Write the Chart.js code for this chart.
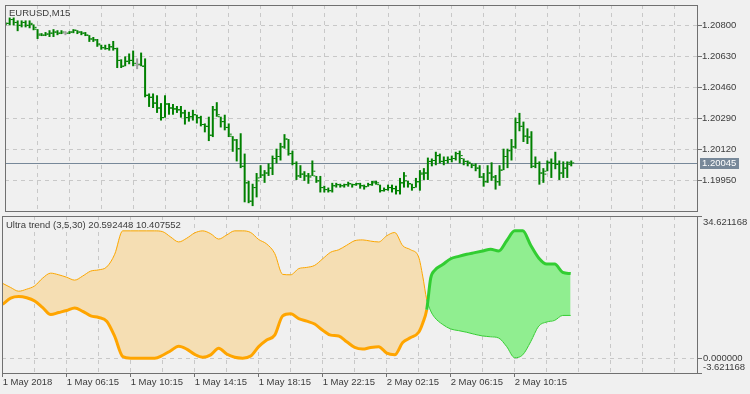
<!DOCTYPE html>
<html>
<head>
<meta charset="utf-8">
<script src="https://cdn.jsdelivr.net/npm/chart.js@4.4.1/dist/chart.umd.min.js"></script>
<style>
  html, body { margin: 0; padding: 0; background: #f0f0f0; }
  #wrap { position: relative; width: 750px; height: 394px; overflow: hidden; }
  canvas { position: absolute; left: 0; }
  #priceChart { top: 0; }
  #trendChart { top: 216px; }
</style>
</head>
<body>
<div id="wrap">
  <canvas id="priceChart" width="750" height="216"></canvas>
  <canvas id="trendChart" width="750" height="178"></canvas>
</div>
<script>
const symbolTitle = "EURUSD,M15";
const indicatorTitle = "Ultra trend (3,5,30) 20.592448 10.407552";

// bar index of every grid line, and the labelled ones
const gridBars = [0, 8, 16, 24, 32, 40, 48, 56, 64, 72, 80, 88, 96, 104, 112, 120, 128, 136, 144, 152, 160, 168];
const timeLabelBars = [0, 16, 32, 48, 64, 80, 96, 112, 128];
const timeLabels = ["1 May 2018", "1 May 06:15", "1 May 10:15", "1 May 14:15", "1 May 18:15",
  "1 May 22:15", "2 May 02:15", "2 May 06:15", "2 May 10:15"];

const priceTicks = [1.1995, 1.2012, 1.2029, 1.2046, 1.2063, 1.208];
const currentPrice = 1.20045;

// M15 bars
const open = [1.20807,1.20813,1.20834,1.20818,1.20802,1.20818,1.20802,1.20807,1.20781,1.20754,
  1.20748,1.20754,1.20759,1.20765,1.20759,1.20759,1.20759,1.20765,1.20775,1.20765,
  1.20759,1.20748,1.20727,1.20722,1.20695,1.20679,1.20674,1.20684,1.20674,1.20609,
  1.20577,1.20604,1.20609,1.20583,1.20588,1.20577,1.20417,1.20406,1.20374,1.20347,
  1.20294,1.20369,1.20347,1.20342,1.20337,1.20320,1.20294,1.20299,1.20310,1.20294,
  1.20256,1.20246,1.20197,1.20337,1.20299,1.20272,1.20240,1.20192,1.20171,1.20123,
  1.20026,1.19935,1.19834,1.19909,1.19962,1.19978,1.19989,1.20016,1.20069,1.20080,
  1.20133,1.20176,1.20096,1.20042,1.19973,1.19983,1.19973,1.19973,1.19973,1.19946,
  1.19909,1.19898,1.19892,1.19919,1.19925,1.19919,1.19925,1.19930,1.19925,1.19930,
  1.19919,1.19914,1.19925,1.19941,1.19925,1.19892,1.19898,1.19909,1.19903,1.19892,
  1.19935,1.19946,1.19930,1.19909,1.19941,1.19983,1.19989,1.20053,1.20058,1.20085,
  1.20053,1.20058,1.20064,1.20069,1.20096,1.20069,1.20053,1.20042,1.20032,1.20016,
  1.19967,1.19941,1.19989,1.19967,1.19941,1.20005,1.20080,1.20112,1.20133,1.20267,
  1.20246,1.20192,1.20187,1.20026,1.20042,1.19989,1.19999,1.20048,1.20042,1.20037,
  1.19989,1.20016,1.20037];
const high = [1.20818,1.20845,1.20845,1.20829,1.20829,1.20829,1.20829,1.20807,1.20781,1.20759,
  1.20765,1.20775,1.20781,1.20775,1.20775,1.20770,1.20770,1.20781,1.20775,1.20770,
  1.20765,1.20748,1.20738,1.20727,1.20695,1.20695,1.20700,1.20716,1.20679,1.20615,
  1.20631,1.20647,1.20663,1.20620,1.20652,1.20620,1.20427,1.20427,1.20417,1.20374,
  1.20417,1.20374,1.20369,1.20358,1.20358,1.20337,1.20326,1.20337,1.20310,1.20304,
  1.20262,1.20299,1.20358,1.20379,1.20299,1.20310,1.20262,1.20192,1.20176,1.20208,
  1.20096,1.19946,1.19930,1.19989,1.20032,1.20005,1.20042,1.20085,1.20123,1.20155,
  1.20203,1.20176,1.20112,1.20053,1.20032,1.19999,1.19989,1.20058,1.19973,1.19973,
  1.19919,1.19909,1.19935,1.19935,1.19930,1.19930,1.19941,1.19930,1.19935,1.19935,
  1.19925,1.19935,1.19946,1.19946,1.19925,1.19909,1.19925,1.19925,1.19919,1.19962,
  1.19994,1.19946,1.19930,1.19962,1.20005,1.20016,1.20074,1.20069,1.20106,1.20096,
  1.20080,1.20080,1.20085,1.20106,1.20112,1.20069,1.20058,1.20042,1.20042,1.20032,
  1.19989,1.20032,1.20048,1.19978,1.20032,1.20123,1.20123,1.20176,1.20294,1.20320,
  1.20272,1.20235,1.20219,1.20080,1.20053,1.20016,1.20058,1.20069,1.20106,1.20058,
  1.20053,1.20053,1.20058];
const low = [1.20802,1.20802,1.20802,1.20770,1.20791,1.20791,1.20786,1.20775,1.20727,1.20743,
  1.20743,1.20738,1.20738,1.20748,1.20754,1.20748,1.20754,1.20759,1.20754,1.20748,
  1.20743,1.20711,1.20711,1.20684,1.20668,1.20668,1.20663,1.20663,1.20567,1.20567,
  1.20577,1.20588,1.20577,1.20561,1.20577,1.20406,1.20353,1.20347,1.20320,1.20278,
  1.20294,1.20310,1.20310,1.20320,1.20294,1.20256,1.20272,1.20278,1.20262,1.20246,
  1.20213,1.20165,1.20187,1.20299,1.20240,1.20224,1.20187,1.20106,1.20053,1.20016,
  1.19828,1.19823,1.19807,1.19855,1.19962,1.19935,1.19973,1.19978,1.20042,1.20058,
  1.20123,1.20085,1.20032,1.19951,1.19962,1.19946,1.19930,1.19973,1.19935,1.19882,
  1.19882,1.19882,1.19882,1.19909,1.19909,1.19909,1.19914,1.19909,1.19919,1.19903,
  1.19898,1.19914,1.19919,1.19925,1.19882,1.19887,1.19892,1.19882,1.19871,1.19871,
  1.19909,1.19909,1.19892,1.19909,1.19892,1.19951,1.19951,1.20026,1.20032,1.20042,
  1.20032,1.20042,1.20048,1.20058,1.20042,1.20032,1.20026,1.20016,1.19999,1.19962,
  1.19914,1.19935,1.19946,1.19898,1.19919,1.20005,1.20016,1.20058,1.20123,1.20219,
  1.20160,1.20149,1.20016,1.20016,1.19925,1.19935,1.19999,1.19962,1.20010,1.19951,
  1.19962,1.19962,1.20026];
const close = [1.20813,1.20834,1.20818,1.20802,1.20818,1.20802,1.20813,1.20791,1.20748,1.20748,
  1.20754,1.20759,1.20765,1.20759,1.20765,1.20759,1.20765,1.20775,1.20765,1.20759,
  1.20748,1.20727,1.20722,1.20700,1.20679,1.20674,1.20684,1.20674,1.20609,1.20577,
  1.20604,1.20609,1.20593,1.20583,1.20577,1.20417,1.20406,1.20374,1.20347,1.20294,
  1.20369,1.20347,1.20342,1.20337,1.20320,1.20294,1.20299,1.20310,1.20294,1.20256,
  1.20246,1.20197,1.20337,1.20310,1.20272,1.20240,1.20203,1.20171,1.20123,1.20026,
  1.19935,1.19834,1.19909,1.19946,1.19978,1.19989,1.20016,1.20069,1.20080,1.20133,
  1.20176,1.20096,1.20042,1.19973,1.19983,1.19973,1.19967,1.19999,1.19946,1.19909,
  1.19898,1.19892,1.19919,1.19925,1.19919,1.19925,1.19930,1.19925,1.19930,1.19919,
  1.19914,1.19925,1.19935,1.19935,1.19892,1.19898,1.19909,1.19903,1.19892,1.19935,
  1.19973,1.19930,1.19909,1.19941,1.19989,1.19989,1.20053,1.20058,1.20085,1.20053,
  1.20058,1.20064,1.20069,1.20096,1.20085,1.20053,1.20048,1.20032,1.20016,1.19967,
  1.19941,1.19989,1.19967,1.19941,1.20005,1.20080,1.20112,1.20133,1.20267,1.20246,
  1.20192,1.20187,1.20026,1.20042,1.19989,1.19983,1.20048,1.20042,1.20037,1.19989,
  1.20016,1.20048,1.20045];

// Ultra trend buffers, sampled at these bar indexes
const trendBars = [0,2,4,6,8,10,12,14,16,18,20,22,24,26,28,30,32,34,36,38,40,42,44,46,48,50,
  52,54,56,58,60,62,64,66,68,70,72,74,76,78,80,82,84,86,88,90,92,94,96,98,100,102,104,105,106,107,
  108,110,112,114,116,118,120,122,124,126,128,130,132,134,136,138,140,142];
// thin line
const ultraSlow = [18.2,17.2,16.3,16.8,17.6,19.5,20.7,20.3,19.7,19.0,20.0,21.2,21.5,22.2,25.3,31.0,
  31.0,31.0,31.0,31.0,30.8,29.5,28.3,29.2,30.5,31.0,30.3,29.0,30.0,31.0,31.0,30.6,28.9,27.8,25.5,20.4,
  20.3,21.8,22.1,22.6,24.2,25.8,26.4,27.5,28.6,28.8,28.5,28.3,29.8,30.6,27.4,26.4,24.6,20.0,14.3,11.5,
  9.9,8.2,7.1,6.7,6.3,5.8,5.4,5.2,4.9,2.8,0.1,0.8,4.0,7.8,8.8,9.2,10.4,10.407552];
// thick line
const ultraFast = [13.1,14.6,15.0,14.7,13.9,12.3,10.6,11.1,11.6,12.2,11.4,10.3,9.9,9.0,5.3,0.4,
  0,0,0,0,0.7,1.8,2.9,2.2,0.9,0.2,0.8,2.4,1.0,0.2,0,0.5,2.8,4.4,5.6,10.3,
  10.8,9.6,9.0,8.3,6.8,5.6,5.4,4.0,2.6,2.2,2.6,2.8,1.2,0.8,3.8,5.0,6.3,8.5,11.8,19.5,
  21.4,22.8,24.2,24.8,25.3,25.7,26.1,26.5,26.1,28.6,31.0,31.0,27.5,24.4,22.9,22.9,20.9,20.592448];
const trendTicks = [-3.621168, 0, 34.621168];

const FONT = { family: "'Liberation Sans', Arial, sans-serif", size: 9.5 };
const TEXT = "#3c3c3c";
const FRAME = "#707070";
const GRID = "#c8c8c8";
const X_MIN = -0.175;
const X_MAX = 173.575;

// rectangle round each pane
const paneFrame = {
  id: "paneFrame",
  afterDraw(chart) {
    const { ctx, chartArea: a } = chart;
    ctx.save();
    ctx.strokeStyle = FRAME;
    ctx.lineWidth = 1;
    ctx.strokeRect(a.left + 0.5, a.top + 0.5, a.right - a.left, a.bottom - a.top);
    ctx.restore();
  },
};

const paneCaption = {
  id: "paneCaption",
  afterDraw(chart, args, opts) {
    const { ctx, chartArea: a } = chart;
    ctx.save();
    ctx.font = FONT.size + "px " + FONT.family;
    ctx.fillStyle = TEXT;
    ctx.textBaseline = "middle";
    ctx.fillText(opts.text, a.left + 4, a.top + opts.dy);
    ctx.restore();
  },
};

const lastPrice = {
  id: "lastPrice",
  beforeDatasetsDraw(chart) {
    const { ctx, chartArea: a } = chart;
    const y = Math.round(chart.scales.y.getPixelForValue(currentPrice)) + 0.5;
    ctx.save();
    ctx.strokeStyle = "#778899";
    ctx.lineWidth = 1;
    ctx.beginPath();
    ctx.moveTo(a.left, y);
    ctx.lineTo(a.right, y);
    ctx.stroke();
    ctx.restore();
  },
  afterDraw(chart) {
    const { ctx, chartArea: a } = chart;
    const y = Math.round(chart.scales.y.getPixelForValue(currentPrice));
    ctx.save();
    ctx.fillStyle = "#778899";
    ctx.fillRect(a.right + 3, y - 5, 39, 11);
    ctx.font = FONT.size + "px " + FONT.family;
    ctx.fillStyle = "#ffffff";
    ctx.textBaseline = "middle";
    ctx.fillText(currentPrice.toFixed(5), a.right + 5, y + 0.5);
    ctx.restore();
  },
};

// indicator scale labels, kept inside the pane like the terminal does
const edgeLabels = {
  id: "edgeLabels",
  afterDraw(chart) {
    const { ctx, chartArea: a } = chart;
    const scale = chart.scales.y;
    ctx.save();
    ctx.font = FONT.size + "px " + FONT.family;
    ctx.fillStyle = TEXT;
    ctx.textBaseline = "middle";
    scale.ticks.forEach((t) => {
      let y = scale.getPixelForValue(t.value);
      y = Math.min(Math.max(y, a.top + 6), a.bottom - 6);
      ctx.fillText(t.value.toFixed(6), a.right + 6, y);
    });
    ctx.restore();
  },
};

const barColors = open.map((o, i) => (o === close[i] ? "#a0a0a0" : "#008000"));

new Chart(document.getElementById("priceChart"), {
  type: "bar",
  data: {
    datasets: [
      {
        type: "bar",
        data: high.map((h, i) => ({ x: i, y: [low[i], h] })),
        backgroundColor: barColors,
        barThickness: 2,
        borderWidth: 0,
        borderSkipped: false,
        inflateAmount: 0,
        grouped: false,
      },
      {
        type: "scatter",
        data: open.map((v, i) => ({ x: i - 0.5, y: v })),
        pointStyle: "line",
        pointRadius: 1,
        pointBorderWidth: 1,
        pointBorderColor: barColors,
      },
      {
        type: "scatter",
        data: close.map((v, i) => ({ x: i + 0.5, y: v })),
        pointStyle: "line",
        pointRadius: 1,
        pointBorderWidth: 1,
        pointBorderColor: barColors,
      },
    ],
  },
  options: {
    responsive: false,
    animation: false,
    events: [],
    layout: { padding: { left: 2, top: 2, right: 0, bottom: 2 } },
    plugins: {
      legend: { display: false },
      tooltip: { enabled: false },
      paneCaption: { text: symbolTitle, dy: 8 },
    },
    scales: {
      x: {
        type: "linear",
        min: X_MIN,
        max: X_MAX,
        bounds: "data",
        offset: false,
        afterBuildTicks: (s) => { s.ticks = gridBars.map((v) => ({ value: v })); },
        afterFit: (s) => { s.height = 0; s.paddingLeft = 0; s.paddingRight = 0; },
        ticks: { display: false },
        grid: { color: GRID, drawTicks: false, offset: false },
        border: { display: false, dash: [4, 4] },
      },
      y: {
        position: "right",
        min: 1.1978,
        max: 1.20914,
        bounds: "data",
        afterBuildTicks: (s) => { s.ticks = priceTicks.map((v) => ({ value: v })); },
        afterFit: (s) => { s.width = 53; s.paddingTop = 0; s.paddingBottom = 0; },
        ticks: { font: FONT, color: TEXT, padding: 0, callback: (v) => v.toFixed(5) },
        grid: { color: GRID, tickLength: 5, tickColor: FRAME },
        border: { display: false, dash: [4, 4] },
      },
    },
  },
  plugins: [lastPrice, paneFrame, paneCaption],
});

const GREEN = "#32cd32";
const ORANGE = "#ffa500";
const trendColor = (ctx) =>
  ultraFast[ctx.p1DataIndex] > ultraSlow[ctx.p1DataIndex] ? GREEN : ORANGE;

new Chart(document.getElementById("trendChart"), {
  type: "line",
  data: {
    datasets: [
      {
        data: trendBars.map((x, k) => ({ x: x, y: ultraSlow[k] })),
        borderColor: ORANGE,
        borderWidth: 1,
        pointRadius: 0,
        cubicInterpolationMode: "monotone",
        fill: false,
        segment: { borderColor: trendColor },
      },
      {
        data: trendBars.map((x, k) => ({ x: x, y: ultraFast[k] })),
        borderColor: ORANGE,
        borderWidth: 3,
        borderJoinStyle: "round",
        pointRadius: 0,
        cubicInterpolationMode: "monotone",
        fill: { target: 0, above: "#90ee90", below: "#f5deb3" },
        segment: { borderColor: trendColor },
      },
    ],
  },
  options: {
    responsive: false,
    animation: false,
    events: [],
    layout: { padding: { left: 2, top: 0, right: 0, bottom: 0 } },
    plugins: {
      legend: { display: false },
      tooltip: { enabled: false },
      paneCaption: { text: indicatorTitle, dy: 9 },
    },
    scales: {
      x: {
        type: "linear",
        min: X_MIN,
        max: X_MAX,
        bounds: "data",
        afterBuildTicks: (s) => { s.ticks = gridBars.map((v) => ({ value: v })); },
        afterFit: (s) => { s.height = 21; s.paddingLeft = 0; s.paddingRight = 0; },
        ticks: {
          font: FONT,
          color: TEXT,
          align: "start",
          maxRotation: 0,
          autoSkip: false,
          padding: 0,
          callback: (v) => {
            const k = timeLabelBars.indexOf(v);
            return k >= 0 ? timeLabels[k] : "";
          },
        },
        grid: {
          color: GRID,
          tickLength: 4,
          tickColor: (c) => (c.tick && timeLabelBars.includes(c.tick.value) ? FRAME : "rgba(0,0,0,0)"),
        },
        border: { display: false, dash: [4, 4] },
      },
      y: {
        position: "right",
        min: trendTicks[0],
        max: trendTicks[2],
        bounds: "data",
        afterBuildTicks: (s) => { s.ticks = trendTicks.map((v) => ({ value: v })); },
        afterFit: (s) => { s.width = 53; s.paddingTop = 0; s.paddingBottom = 0; },
        ticks: { display: false },
        grid: {
          color: (c) => (c.tick && c.tick.value === 0 ? GRID : "rgba(0,0,0,0)"),
          tickLength: 5,
          tickColor: FRAME,
        },
        border: { display: false, dash: [4, 4] },
      },
    },
  },
  plugins: [paneFrame, paneCaption, edgeLabels],
});
</script>
</body>
</html>
